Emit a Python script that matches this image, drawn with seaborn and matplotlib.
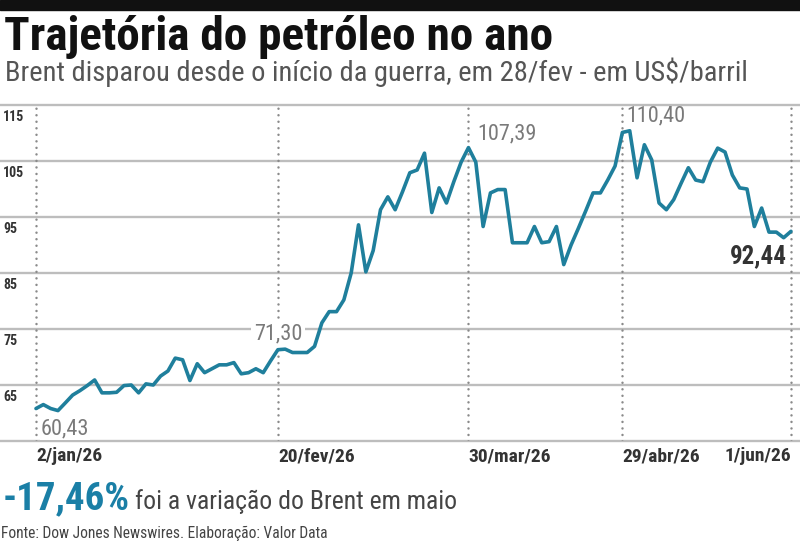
import numpy as np
import pandas as pd
import matplotlib.pyplot as plt
import seaborn as sns
from matplotlib import font_manager
from matplotlib.patches import Rectangle
from matplotlib.transforms import blended_transform_factory

# Brent, US$/barril, one value per trading day (2/jan/26 to 1/jun/26)
holidays = ['2026-01-19', '2026-02-16', '2026-04-03']
dates = pd.bdate_range('2026-01-02', '2026-06-01').drop(pd.to_datetime(holidays))
brent = [60.8, 61.5, 60.8, 60.43, 61.8, 63.2, 64.0, 64.9, 65.9, 63.6,
         63.6, 63.7, 64.9, 65.0, 63.6, 65.2, 65.0, 66.6, 67.5, 69.8,
         69.5, 65.8, 68.8, 67.2, 67.9, 68.6, 68.6, 69.0, 67.0, 67.2,
         67.9, 67.2, 69.3, 71.30, 71.4, 70.8, 70.8, 70.8, 71.9, 76.1,
         78.1, 78.1, 80.2, 85.0, 93.6, 85.2, 89.0, 96.3, 98.6, 96.3,
         99.5, 102.9, 103.4, 106.4, 95.8, 100.2, 97.5, 101.3, 104.8, 107.39,
         104.8, 93.3, 99.3, 99.9, 99.9, 90.4, 90.4, 90.4, 93.3, 90.4,
         90.6, 93.3, 86.5, 90.0, 93.0, 96.1, 99.3, 99.3, 101.6, 104.1,
         110.1, 110.40, 102.0, 107.9, 105.2, 97.5, 96.3, 98.1, 101.0, 103.8,
         101.6, 101.3, 104.8, 107.3, 106.6, 102.5, 100.2, 100.0, 93.3, 96.6,
         92.3, 92.3, 91.3, 92.44]

tick_dates = ['2026-01-02', '2026-02-20', '2026-03-30', '2026-04-29', '2026-06-01']
tick_labels = ['2/jan/26', '20/fev/26', '30/mar/26', '29/abr/26', '1/jun/26']
y_levels = [55, 65, 75, 85, 95, 105, 115]
y_labels = ['65', '75', '85', '95', '105', '115']

# labelled points: (date, text)
callouts = [('2026-01-07', '60,43'), ('2026-02-20', '71,30'), ('2026-03-30', '107,39'),
            ('2026-04-29', '110,40'), ('2026-06-01', '92,44')]

df = pd.DataFrame({'pos': np.arange(len(dates)), 'brent': brent}, index=dates)
tick_pos = [df.index.get_loc(pd.Timestamp(d)) for d in tick_dates]

sns.set_theme(style='white')
names = {f.name for f in font_manager.fontManager.ttflist}
narrow = next((n for n in ['Liberation Sans Narrow', 'DejaVu Sans Condensed', 'Roboto Condensed']
               if n in names), 'Liberation Sans')
plt.rcParams['font.family'] = [narrow, 'DejaVu Sans']

teal = '#1f7f9c'
grid_c = '#bdbdbd'
dark = '#333333'

fig = plt.figure(figsize=(8, 5.42), dpi=100)
fig.patch.set_facecolor('white')
fig.patches.append(Rectangle((0, 1 - 10 / 542), 1, 10 / 542, transform=fig.transFigure,
                             color='#111111', zorder=0))

ax = fig.add_axes([0, 1 - 441 / 542, 1, 336 / 542])
ax.set_xlim(-4.91, 104.23)
ax.set_ylim(55, 115)
ax.axis('off')

for v in y_levels:
    ax.axhline(v, color=grid_c, lw=1.7, zorder=1, clip_on=False)
for p in tick_pos:
    ax.axvline(p, color='#8a8a8a', lw=1.8, linestyle=(0, (0.01, 2.6)),
               dash_capstyle='round', zorder=2)

sns.lineplot(data=df, x='pos', y='brent', color=teal, lw=2.6, ax=ax, zorder=3)

trans = blended_transform_factory(ax.transAxes, ax.transData)
for v, lab in zip(y_levels[1:], y_labels):
    ax.text(0.004, v - 0.9, lab, transform=trans, ha='left', va='top',
            fontsize=10, fontweight='bold', color=dark)

xtrans = blended_transform_factory(ax.transData, ax.transAxes)
for i, (p, lab) in enumerate(zip(tick_pos, tick_labels)):
    ha = 'right' if i == len(tick_pos) - 1 else 'left'
    ax.text(p, -0.045, lab, transform=xtrans, ha=ha, va='center',
            fontsize=14, fontweight='bold', color=dark)

# value callouts
lbl = dict(fontsize=16, color='#7a7a7a')
pos_of = {d: df.index.get_loc(pd.Timestamp(d)) for d, _ in callouts}
ax.text(0.6, 59.1, callouts[0][1], ha='left', va='top', zorder=4,
        bbox=dict(fc='white', ec='none', pad=0.5), **lbl)
ax.text(pos_of['2026-02-20'], 74.2, callouts[1][1], ha='center', va='center', zorder=4,
        bbox=dict(fc='white', ec='none', pad=2), **lbl)
ax.text(pos_of['2026-03-30'] + 1.2, 109.9, callouts[2][1], ha='left', va='center', zorder=4, **lbl)
ax.text(pos_of['2026-04-29'] + 0.5, 113.0, callouts[3][1], ha='left', va='center', zorder=4, **lbl)
ax.text(pos_of['2026-06-01'] - 0.5, 88.0, callouts[4][1], ha='right', va='center', zorder=4,
        fontsize=18, fontweight='bold', color=dark)

# titles and footer
fig.text(4 / 800, 1 - 50 / 542, 'Trajetória do petróleo no ano', fontsize=34,
         fontweight='heavy', color='#111111', va='baseline')
fig.text(5 / 800, 1 - 81 / 542, 'Brent disparou desde o início da guerra, em 28/fev - em US$/barril',
         fontsize=20.5, color='#555555', va='baseline')
fig.text(3 / 800, 1 - 509 / 542, '-17,46%', fontsize=28, fontweight='bold',
         color='#1a7fa6', va='baseline')
fig.text(135 / 800, 1 - 509 / 542, 'foi a variação do Brent em maio', fontsize=18.5,
         color='#444444', va='baseline')
fig.text(1 / 800, 1 - 538 / 542, 'Fonte: Dow Jones Newswires. Elaboração: Valor Data',
         fontsize=11.2, color='#444444', va='baseline')

fig.savefig('out.png', dpi=100)
